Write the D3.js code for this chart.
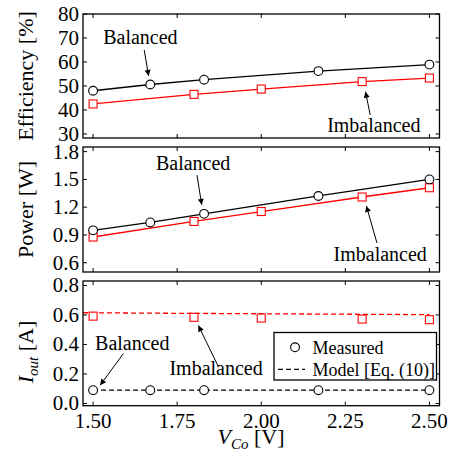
<!DOCTYPE html>
<html><head><meta charset="utf-8">
<script src="https://cdn.jsdelivr.net/npm/d3@7"></script>
<style>
html,body{margin:0;padding:0;background:#fff;}
svg text{font-family:'Liberation Serif','DejaVu Serif',serif;fill:#000;}
</style></head>
<body><svg id="c" width="456" height="463" font-family="Liberation Serif, DejaVu Serif, serif"></svg>
<script>
// ---------- data ----------
const xBal = [1.5, 1.67, 1.83, 2.17, 2.5];
const xImb = [1.5, 1.8, 2.0, 2.3, 2.5];
const effBal = [48.0, 50.6, 52.6, 56.2, 58.9];
const effImb = [42.5, 46.5, 48.7, 51.8, 53.3];
const powBal = [0.95, 1.035, 1.128, 1.321, 1.50];
const powImb = [0.878, 1.046, 1.153, 1.31, 1.41];
const iBal = [0.09, 0.09, 0.09, 0.09, 0.09];
const iImb = [0.592, 0.584, 0.579, 0.572, 0.568];
const modelXBal = [1.5, 2.5];
const modelBal = [0.09, 0.09];
const modelXImb = [1.47, 1.75, 2.0, 2.25, 2.5];
const modelImb = [0.615, 0.611, 0.608, 0.605, 0.602];
const xTicks = [1.5, 1.75, 2.0, 2.25, 2.5];
const xTickLabels = ["1.50", "1.75", "2.00", "2.25", "2.50"];
const effTicks = [30, 40, 50, 60, 70, 80];
const powTicks = [0.6, 0.9, 1.2, 1.5, 1.8];
const powTickLabels = ["0.6", "0.9", "1.2", "1.5", "1.8"];
const iTicks = [0.0, 0.2, 0.4, 0.6, 0.8];
const iTickLabels = ["0.0", "0.2", "0.4", "0.6", "0.8"];
const legendLabels = ["Measured", "Model [Eq. (10)]"];
// annotations in data units: text position and arrow from->to
const annEff = [
  {t:"Balanced", tx:1.53, ty:67.5, x1:1.652, y1:65.0, x2:1.665, y2:54.2},
  {t:"Imbalanced", tx:2.196, ty:31.0, x1:2.324, y1:37.9, x2:2.310, y2:47.6}
];
const annPow = [
  {t:"Balanced", tx:1.687, ty:1.60, x1:1.809, y1:1.546, x2:1.823, y2:1.225},
  {t:"Imbalanced", tx:2.215, ty:0.617, x1:2.344, y1:0.814, x2:2.3125, y2:1.214}
];
const annI = [
  {t:"Balanced", tx:1.506, ty:0.360, x1:1.590, y1:0.338, x2:1.521, y2:0.124},
  {t:"Imbalanced", tx:1.727, ty:0.191, x1:1.873, y1:0.247, x2:1.813, y2:0.529}
];

// ---------- layout ----------
const FONT = "'Liberation Serif','DejaVu Serif',serif";
const svg = d3.select("#c");
const L = 83, R = 439.5;
const x = d3.scaleLinear().domain([1.47, 2.53]).range([L, R]);
const RED = "#ff0000";
const TICKFS = 21;

svg.append("defs").append("marker")
  .attr("id","ah").attr("viewBox","0 0 10 10").attr("refX",10).attr("refY",5)
  .attr("markerWidth",8).attr("markerHeight",6).attr("markerUnits","userSpaceOnUse")
  .attr("orient","auto")
  .append("path").attr("d","M0,0 L10,5 L0,10 z").attr("fill","#000");

function txt(sel) { return sel.append("text").style("font-family", FONT); }

function panel(top, bottom, ydom, yTicks, yLabels, showX) {
  const y = d3.scaleLinear().domain(ydom).range([bottom, top]);
  const g = svg.append("g");
  const tl = 4;
  const ax = g.append("g").attr("stroke","#000").attr("stroke-width",1);
  xTicks.forEach(v => {
    ax.append("line").attr("x1",x(v)).attr("x2",x(v)).attr("y1",bottom).attr("y2",bottom-tl);
    ax.append("line").attr("x1",x(v)).attr("x2",x(v)).attr("y1",top).attr("y2",top+tl);
  });
  yTicks.forEach(v => {
    ax.append("line").attr("x1",L).attr("x2",L+tl).attr("y1",y(v)).attr("y2",y(v));
    ax.append("line").attr("x1",R).attr("x2",R-tl).attr("y1",y(v)).attr("y2",y(v));
  });
  yTicks.forEach((v,i) => {
    txt(g).attr("x",L-4).attr("y",y(v)+7).attr("text-anchor","end")
      .attr("font-size",TICKFS).text(yLabels[i]);
  });
  if (showX) {
    xTicks.forEach((v,i) => {
      txt(g).attr("x",x(v)).attr("y",bottom+22).attr("text-anchor","middle")
        .attr("font-size",TICKFS).text(xTickLabels[i]);
    });
  }
  return {g, y, top, bottom};
}

function frame(p) {
  p.g.append("rect").attr("x",L).attr("y",p.top).attr("width",R-L).attr("height",p.bottom-p.top)
    .attr("fill","none").attr("stroke","#000").attr("stroke-width",1.3);
}

function series(p, xs, ys, color, shape, drawLine, dashed) {
  const line = d3.line().x((d,i)=>x(xs[i])).y(d=>p.y(d));
  if (drawLine) {
    p.g.append("path").attr("d",line(ys)).attr("fill","none").attr("stroke",color)
      .attr("stroke-width",1.3).attr("stroke-dasharray",dashed?"5,3":null);
  }
  if (shape === "circle") {
    p.g.selectAll(null).data(ys).enter().append("circle")
      .attr("cx",(d,i)=>x(xs[i])).attr("cy",d=>p.y(d)).attr("r",4.4)
      .attr("fill","#fff").attr("stroke",color).attr("stroke-width",1.1);
  } else if (shape === "square") {
    p.g.selectAll(null).data(ys).enter().append("rect")
      .attr("x",(d,i)=>x(xs[i])-4).attr("y",d=>p.y(d)-4).attr("width",8).attr("height",8)
      .attr("fill","#fff").attr("stroke",color).attr("stroke-width",1.1);
  }
}

function annotate(p, anns) {
  anns.forEach(a => {
    txt(p.g).attr("x",x(a.tx)).attr("y",p.y(a.ty)).attr("font-size",20).text(a.t);
    p.g.append("line").attr("x1",x(a.x1)).attr("y1",p.y(a.y1)).attr("x2",x(a.x2)).attr("y2",p.y(a.y2))
      .attr("stroke","#000").attr("stroke-width",1).attr("marker-end","url(#ah)");
  });
}

// Panel 1: efficiency
const p1 = panel(14, 138, [28.3, 80], effTicks, effTicks.map(String), false);
series(p1, xImb, effImb, RED, "square", true, false);
series(p1, xBal, effBal, "#000", "circle", true, false);
annotate(p1, annEff);
frame(p1);

// Panel 2: power
const p2 = panel(147, 272, [0.5, 1.85], powTicks, powTickLabels, false);
series(p2, xImb, powImb, RED, "square", true, false);
series(p2, xBal, powBal, "#000", "circle", true, false);
annotate(p2, annPow);
frame(p2);

// Panel 3: output current
const p3 = panel(281, 405.7, [-0.015, 0.83], iTicks, iTickLabels, true);
series(p3, modelXImb, modelImb, RED, null, true, true);
series(p3, modelXBal, modelBal, "#000", null, true, true);
series(p3, xImb, iImb, RED, "square", false, false);
series(p3, xBal, iBal, "#000", "circle", false, false);
annotate(p3, annI);
frame(p3);

// legend
const lg = svg.append("g");
lg.append("rect").attr("x",274).attr("y",332.5).attr("width",162.5).attr("height",47.5)
  .attr("fill","#fff").attr("stroke","#000").attr("stroke-width",1.3);
lg.append("circle").attr("cx",295).attr("cy",347.3).attr("r",4.4)
  .attr("fill","#fff").attr("stroke","#000").attr("stroke-width",1.1);
lg.append("line").attr("x1",278).attr("x2",305).attr("y1",369.3).attr("y2",369.3)
  .attr("stroke","#000").attr("stroke-width",1.3).attr("stroke-dasharray","5,3");
txt(lg).attr("x",312.5).attr("y",353.5).attr("font-size",18).text(legendLabels[0]);
txt(lg).attr("x",312.5).attr("y",375.5).attr("font-size",18).text(legendLabels[1]);

// axis titles
function ytitle(cy, build) {
  const t = txt(svg).attr("transform",`translate(33,${cy}) rotate(-90)`)
    .attr("text-anchor","middle").attr("font-size",22);
  build(t);
}
ytitle(76, t => t.text("Efficiency [%]"));
ytitle(209.5, t => t.text("Power [W]"));
ytitle(352, t => {
  t.append("tspan").attr("font-style","italic").text("I");
  t.append("tspan").attr("font-style","italic").attr("font-size",15).attr("dy",5).text("out");
  t.append("tspan").attr("dy",-5).text(" [A]");
});
const xt = txt(svg).attr("x",251).attr("y",444).attr("text-anchor","middle").attr("font-size",22);
xt.append("tspan").attr("font-style","italic").text("V");
xt.append("tspan").attr("font-style","italic").attr("font-size",15).attr("dy",5).text("Co");
xt.append("tspan").attr("dy",-5).text(" [V]");
</script></body></html>
